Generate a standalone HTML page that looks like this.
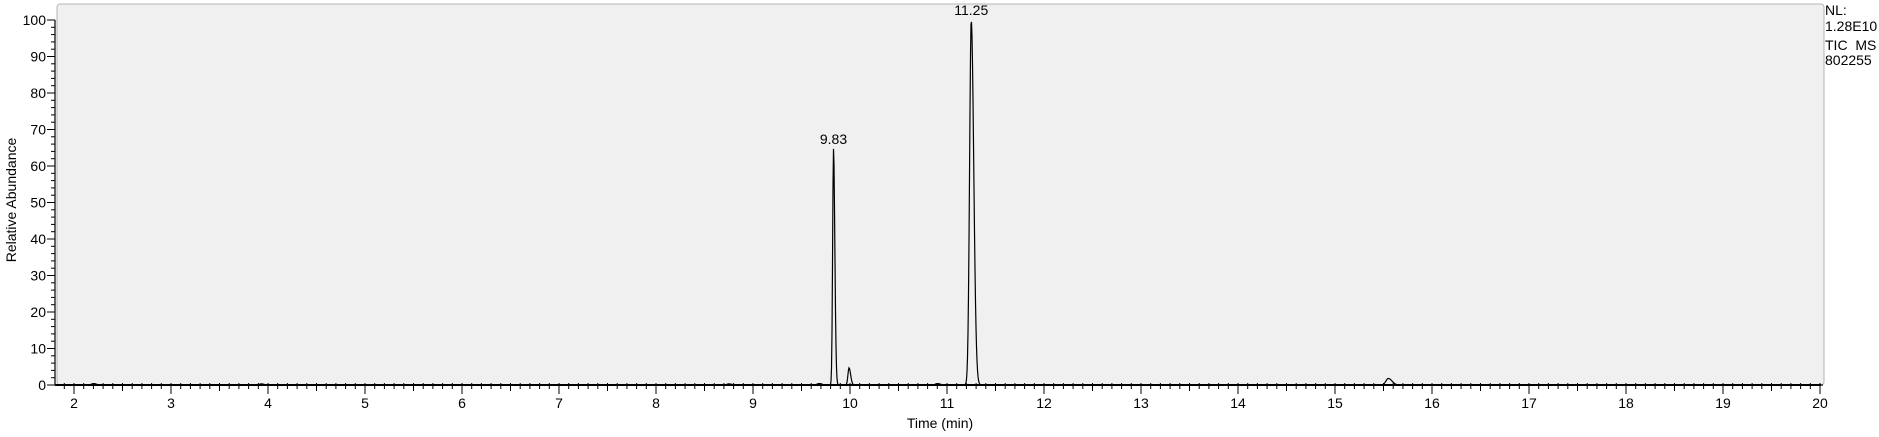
<!DOCTYPE html>
<html><head><meta charset="utf-8"><style>
html,body{margin:0;padding:0;background:#fff;width:1879px;height:437px;overflow:hidden}
svg{display:block;font-family:"Liberation Sans",Arial,sans-serif}
</style></head><body>
<svg id="chart" width="1879" height="437" viewBox="0 0 1879 437">
<rect x="57" y="4" width="1767" height="381" rx="3" fill="#f0f0f0" stroke="#b4b4b4" stroke-width="1"/>
<g id="axes"></g>
<path id="trace" fill="none" stroke="#000" stroke-width="1.2"/>
<g id="labels"></g>
<text transform="translate(16,200) rotate(-90)" text-anchor="middle" font-size="14">Relative Abundance</text>
<text x="940" y="428" text-anchor="middle" font-size="14">Time (min)</text>
<g font-size="14" fill="#000">
<text x="1825" y="15">NL:</text>
<text x="1825" y="31">1.28E10</text>
<text x="1825" y="50" xml:space="preserve">TIC  MS</text>
<text x="1825" y="65">802255</text>
</g>
</svg>
<script>
const peakTimes = [2.2, 3.93, 8.75, 9.68, 9.83, 9.99, 10.9, 11.25, 15.55];
const peakHeights = [0.4, 0.3, 0.3, 0.4, 64.7, 4.7, 0.4, 100, 1.8];
const peakWidths = [0.02, 0.02, 0.02, 0.02, 0.009, 0.011, 0.02, 0.017, 0.025];
const labelTimes = [9.83, 11.25];
const labelTexts = ["9.83", "11.25"];
const xTicks = [2,3,4,5,6,7,8,9,10,11,12,13,14,15,16,17,18,19,20];
const yTicks = [0,10,20,30,40,50,60,70,80,90,100];

const NS = "http://www.w3.org/2000/svg";
const X0 = 74, PXMIN = 97, Y0 = 385, Y100 = 20;
function xs(t){ return X0 + (t - 2) * PXMIN; }
function ys(v){ return Y0 - v / 100 * (Y0 - Y100); }
function el(tag, attrs, parent){ const e = document.createElementNS(NS, tag); for (const k in attrs) e.setAttribute(k, attrs[k]); parent.appendChild(e); return e; }

const axes = document.getElementById("axes");
const yl = el("line", {x1:55, y1:ys(100), x2:55, y2:Y0, stroke:"#000", "stroke-width":1.2}, axes);


const xl = el("line", {x1:55, y1:Y0, x2:xs(20)+1, y2:Y0, stroke:"#000", "stroke-width":2}, axes);



for (let v = 0; v <= 100; v += 2) {
  const major = v % 10 === 0;
  const t = el("line", {x1: major ? 47 : 51, y1: ys(v), x2: 55, y2: ys(v), stroke:"#000", "stroke-width":1}, axes);
  
  
}
yTicks.forEach(v => {
  const t = el("text", {x:46, y:ys(v)+5, "text-anchor":"end", "font-size":14}, axes);
  t.textContent = v;
  
  
});
for (let i = 19; i <= 200; i++) {
  const t = i / 10;
  const major = i % 10 === 0;
  const half = i % 5 === 0;
  const tk = el("line", {x1: xs(t), y1: Y0 - 2, x2: xs(t), y2: Y0 + (major ? 9 : half ? 6 : 4), stroke:"#000", "stroke-width":1}, axes);
  
  
}
xTicks.forEach(v => {
  const t = el("text", {x:xs(v), y:408, "text-anchor":"middle", "font-size":14}, axes);
  t.textContent = v;
  
  
});

let d = "";
for (let px = 57; px <= 1823; px += 0.5) {
  const t = 2 + (px - X0) / PXMIN;
  let v = 0;
  for (let k = 0; k < peakTimes.length; k++) {
    let w = peakWidths[k];
    if (t > peakTimes[k]) w *= 1.5;
    const z = (t - peakTimes[k]) / w;
    v += peakHeights[k] * Math.exp(-0.5 * z * z);
  }
  d += (d ? "L" : "M") + px.toFixed(1) + "," + ys(v).toFixed(2);
}
document.getElementById("trace").setAttribute("d", d);

const lg = document.getElementById("labels");
labelTimes.forEach((t, i) => {
  const k = peakTimes.indexOf(t);
  const txt = el("text", {x:xs(t), y:ys(peakHeights[k]) - 5, "text-anchor":"middle", "font-size":14}, lg);
  txt.textContent = labelTexts[i];
  
  
});
</script>
</body></html>
